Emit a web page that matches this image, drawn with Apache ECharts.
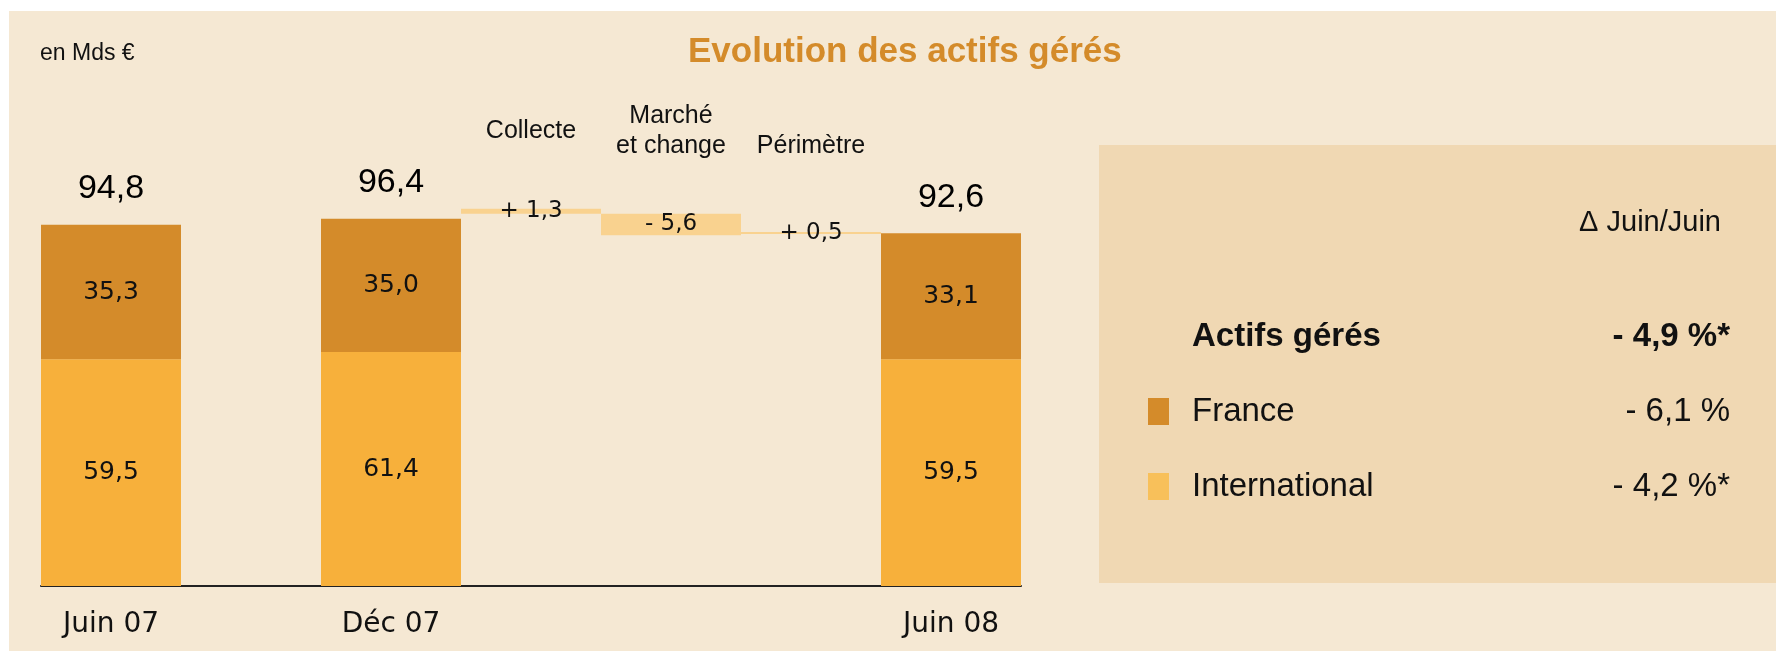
<!DOCTYPE html>
<html>
<head>
<meta charset="utf-8">
<title>Evolution des actifs gérés</title>
<script src="https://cdn.jsdelivr.net/npm/echarts@6.0.0/dist/echarts.min.js"></script>
<style>
  html, body { margin: 0; padding: 0; background: #ffffff; }
  #main { width: 1776px; height: 651px; }
</style>
</head>
<body>
<div id="main"></div>
<script>
  // donnees (en Mds €)
  var periodLabels = ['Juin 07', '', 'Déc 07', '', '', '', 'Juin 08'];
  var stepLabels = ['', '', '', 'Collecte', 'Marché\net change', 'Périmètre', ''];
  var international = [59.5, '-', 61.4, '-', '-', '-', 59.5];
  var france = [35.3, '-', 35.0, '-', '-', '-', 33.1];
  var totals = [94.8, '-', 96.4, '-', '-', '-', 92.6];
  var stepBase = ['-', '-', '-', 97.7, 92.1, 92.4, '-'];
  var stepValues = ['-', '-', '-', 1.3, 5.6, 0.5, '-'];
  var stepText = ['', '', '', '+ 1,3', '- 5,6', '+ 0,5', ''];
  var panelNames = ['Actifs gérés', 'France', 'International'];
  var panelChanges = ['- 4,9 %*', '- 6,1 %', '- 4,2 %*'];

  var cFrance = '#d48b2a';
  var cInter = '#f7b03b';
  var cStep = '#f9d28f';

  function virgule(v) {
    return v.toFixed(1).replace('.', ',');
  }

  var chart = echarts.init(document.getElementById('main'));

  var topData = stepLabels.map(function (s) {
    if (s === 'Collecte') {
      return { value: s, textStyle: { padding: [0, 0, 15, 0] } };
    }
    return s;
  });

  chart.setOption({
    animation: false,
    textStyle: { fontFamily: 'Liberation Sans' },
    graphic: [
      { type: 'rect', shape: { x: 9, y: 11, width: 1767, height: 640 }, style: { fill: '#f5e8d3' }, silent: true },
      { type: 'rect', shape: { x: 1099, y: 145, width: 677, height: 438 }, style: { fill: '#f0d8b3' }, silent: true },
      { type: 'text', x: 1721, y: 223, silent: true,
        style: { text: 'Δ Juin/Juin', align: 'right', verticalAlign: 'middle', fill: '#111',
          font: '29px "Liberation Sans"' } }
    ],
    title: [
      { text: 'Evolution des actifs gérés', left: 688, top: 35, padding: 0,
        textStyle: { color: cFrance, fontSize: 35, fontWeight: 'bold', fontFamily: 'Liberation Sans' } },
      { text: 'en Mds €', left: 40, top: 42, padding: 0,
        textStyle: { color: '#111', fontSize: 23, fontWeight: 'normal', fontFamily: 'Liberation Sans' } }
    ],
    legend: {
      orient: 'vertical',
      left: 1148,
      top: 320,
      padding: 0,
      itemWidth: 21,
      itemHeight: 27,
      itemGap: 42,
      selectedMode: false,
      icon: 'rect',
      data: [
        { name: 'Actifs gérés', itemStyle: { color: 'rgba(0,0,0,0)' } },
        { name: 'France', itemStyle: { color: cFrance } },
        { name: 'International', itemStyle: { color: '#f8c05a' } }
      ],
      formatter: function (name) {
        var i = panelNames.indexOf(name);
        if (i === 0) {
          return '{nb|' + name + '}{vb|' + panelChanges[i] + '}';
        }
        return '{n|' + name + '}{v|' + panelChanges[i] + '}';
      },
      textStyle: {
        width: 556,
        color: '#111',
        fontSize: 33,
        rich: {
          n: { fontSize: 33, lineHeight: 33, padding: [0, 0, 0, 18], color: '#111' },
          nb: { fontSize: 33, lineHeight: 33, fontWeight: 'bold', padding: [0, 0, 0, 18], color: '#111' },
          v: { fontSize: 33, lineHeight: 33, align: 'right', color: '#111' },
          vb: { fontSize: 33, lineHeight: 33, fontWeight: 'bold', align: 'right', color: '#111' }
        }
      }
    },
    grid: { left: 41, width: 980, top: 186, bottom: 65, outerBoundsMode: 'none' },
    xAxis: [
      {
        type: 'category',
        data: periodLabels,
        axisLine: { lineStyle: { color: '#222', width: 2 } },
        axisTick: { show: false },
        axisLabel: { interval: 0, margin: 25, color: '#111', fontSize: 28, fontFamily: 'DejaVu Sans' }
      },
      {
        type: 'category',
        position: 'top',
        data: topData,
        axisLine: { show: false },
        axisTick: { show: false },
        axisLabel: { interval: 0, margin: 25, color: '#111', fontSize: 25, lineHeight: 30, fontFamily: 'Liberation Sans' }
      }
    ],
    yAxis: { type: 'value', min: 0, max: 105, show: false },
    series: [
      {
        name: 'International', type: 'bar', stack: 'all', barCategoryGap: '0%',
        data: international,
        itemStyle: { color: cInter },
        label: { show: true, position: 'inside', color: '#111', fontSize: 25, fontFamily: 'DejaVu Sans',
          formatter: function (p) { return virgule(p.value); } }
      },
      {
        name: 'France', type: 'bar', stack: 'all', barCategoryGap: '0%',
        data: france,
        itemStyle: { color: cFrance },
        label: { show: true, position: 'inside', color: '#111', fontSize: 25, fontFamily: 'DejaVu Sans',
          formatter: function (p) { return virgule(p.value); } }
      },
      {
        name: 'base', type: 'bar', stack: 'all', barCategoryGap: '0%', silent: true,
        data: stepBase,
        itemStyle: { color: 'rgba(0,0,0,0)' }
      },
      {
        name: 'variation', type: 'bar', stack: 'all', barCategoryGap: '0%',
        data: stepValues,
        itemStyle: { color: cStep },
        label: { show: true, position: 'inside', color: '#111', fontSize: 23, fontFamily: 'DejaVu Sans',
          formatter: function (p) { return stepText[p.dataIndex]; } }
      },
      {
        name: 'Actifs gérés', type: 'scatter', symbolSize: 0,
        data: totals,
        itemStyle: { color: 'rgba(0,0,0,0)', opacity: 1 },
        label: { show: true, position: 'top', distance: 19, color: '#000', opacity: 1, fontSize: 34, fontFamily: 'Liberation Sans',
          formatter: function (p) { return virgule(p.value); } }
      }
    ]
  });
</script>
</body>
</html>
